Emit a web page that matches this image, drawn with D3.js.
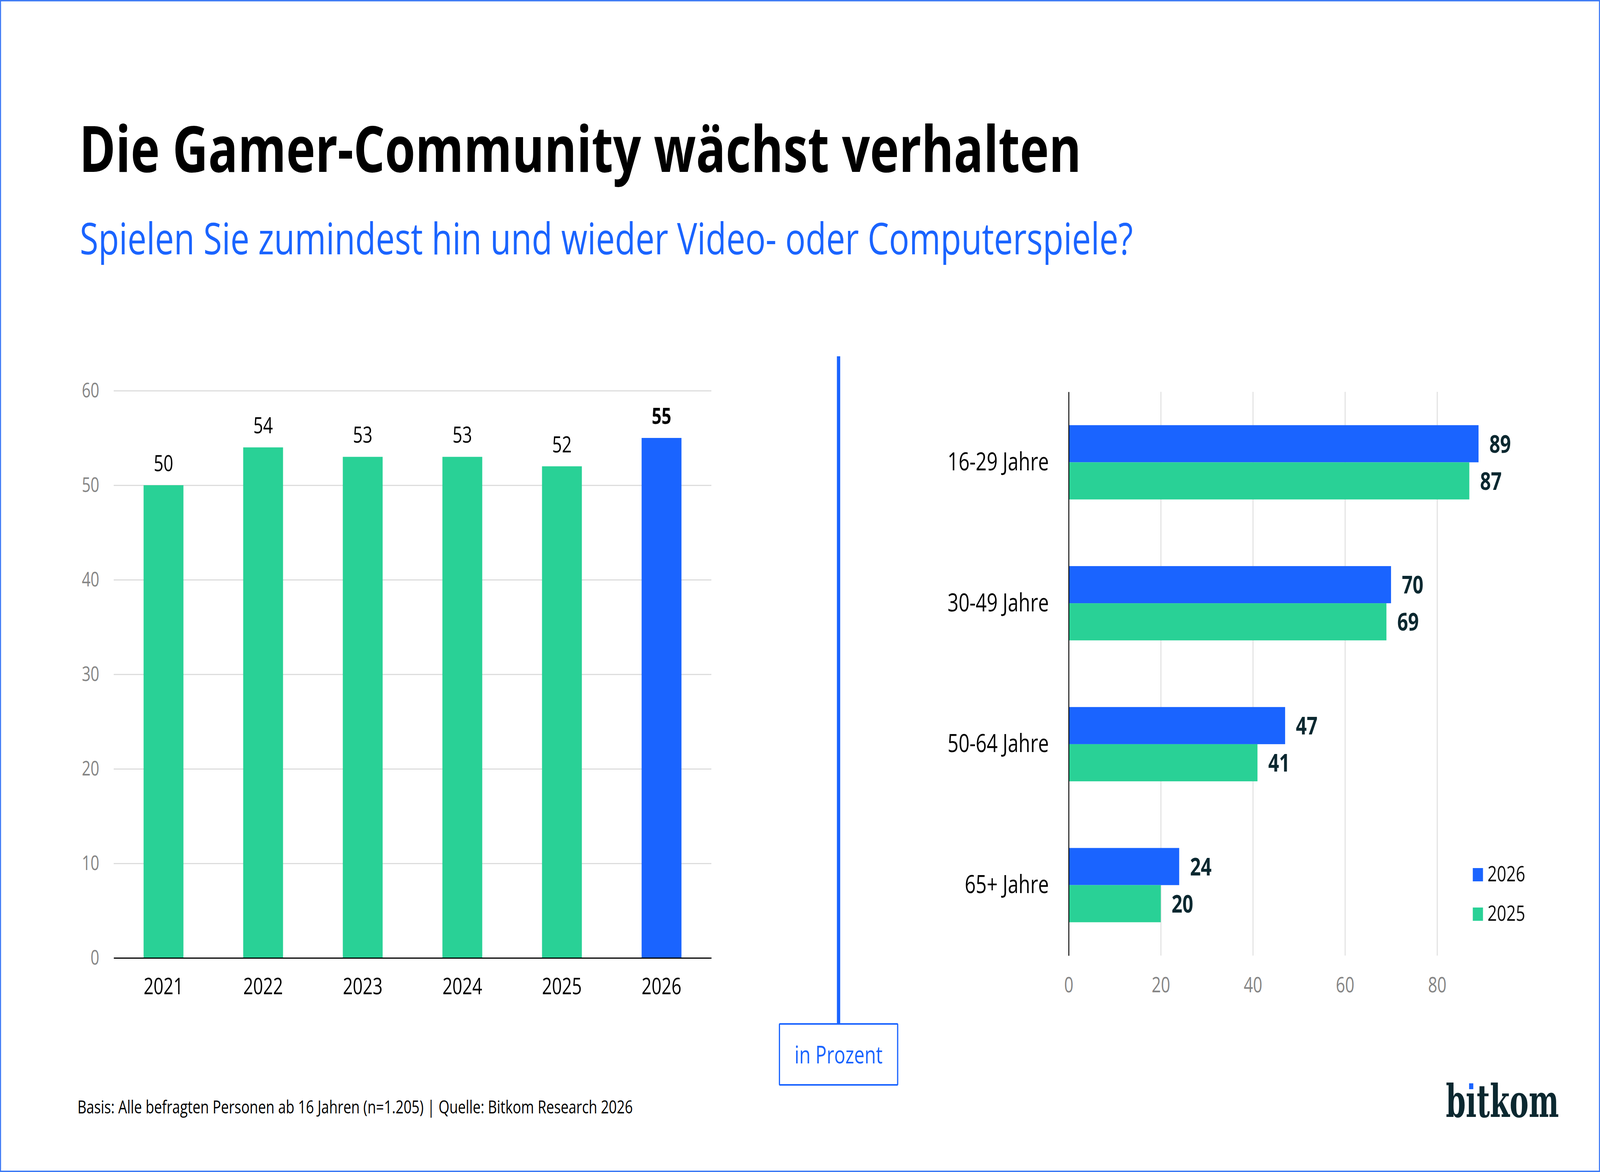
<!DOCTYPE html>
<html>
<head>
<meta charset="utf-8">
<script src="https://cdn.jsdelivr.net/npm/d3@7"></script>
<style>
  html, body { margin: 0; padding: 0; background: #fff; overflow: hidden; }
  svg { display: block; width: 100vw; height: 100vh; }
  text { font-family: "Open Sans", "Noto Sans", sans-serif; }
</style>
</head>
<body>
<svg id="chart" viewBox="0 0 5333 3000" preserveAspectRatio="none"></svg>
<script>
// --- data ---
const years = ['2021', '2022', '2023', '2024', '2025', '2026'];
const gamerShare = [50, 54, 53, 53, 52, 55];
const yTicks = [0, 10, 20, 30, 40, 50, 60];

const ageGroups = ['16-29 Jahre', '30-49 Jahre', '50-64 Jahre', '65+ Jahre'];
const series = ['2026', '2025'];
const share2026 = [89, 70, 47, 24];
const share2025 = [87, 69, 41, 20];
const xTicks = [0, 20, 40, 60, 80];

const BLUE = '#1a64ff';
const GREEN = '#29d196';
const DARK = '#0b2830';
const GRID = '#dddddd';
const TICK = '#858585';

const svg = d3.select('#chart');

// page frame
svg.append('rect')
  .attr('x', 0).attr('y', 0).attr('width', 5333).attr('height', 3000)
  .attr('fill', '#fff').attr('stroke', '#3d7af5').attr('stroke-width', 7);

// scale font-size so the text fills a given width
function fitWidth(sel, target) {
  const node = sel.node();
  const fs = parseFloat(sel.attr('font-size'));
  const w = node.getComputedTextLength();
  sel.attr('font-size', fs * target / w);
}

// titles
const title = svg.append('text')
  .attr('x', 264).attr('y', 440)
  .attr('font-size', 180).attr('font-weight', 700).attr('fill', '#000')
  .text('Die Gamer-Community wächst verhalten');
fitWidth(title, 3340);

const subtitle = svg.append('text')
  .attr('x', 266).attr('y', 651)
  .attr('font-size', 116).attr('fill', BLUE)
  .text('Spielen Sie zumindest hin und wieder Video- oder Computerspiele?');
fitWidth(subtitle, 3510);

// ---------- left: yearly column chart ----------
const x1 = d3.scaleBand().domain(years).range([379, 2371])
  .paddingInner(0.6).paddingOuter(0.3);
const y1 = d3.scaleLinear().domain([0, 60]).range([2452, 1000]);

const left = svg.append('g');

left.append('g')
  .attr('transform', 'translate(379,0)')
  .call(d3.axisLeft(y1).tickValues(yTicks).tickSize(-(2371 - 379)).tickPadding(48))
  .call(g => g.select('.domain').remove())
  .call(g => g.selectAll('.tick line').attr('stroke', GRID).attr('stroke-width', 3))
  .call(g => g.selectAll('.tick text')
    .attr('fill', TICK).attr('font-size', 51)
    .style('font-family', '"Open Sans", sans-serif'));

left.selectAll('.col')
  .data(years)
  .enter()
  .append('rect')
  .attr('class', 'col')
  .attr('x', d => x1(d))
  .attr('width', x1.bandwidth())
  .attr('y', (d, i) => y1(gamerShare[i]))
  .attr('height', (d, i) => y1(0) - y1(gamerShare[i]))
  .attr('fill', (d, i) => i === years.length - 1 ? BLUE : GREEN);

left.selectAll('.col-label')
  .data(years)
  .enter()
  .append('text')
  .attr('x', d => x1(d) + x1.bandwidth() / 2)
  .attr('y', (d, i) => y1(gamerShare[i]) - 36)
  .attr('text-anchor', 'middle')
  .attr('font-size', 57)
  .attr('font-weight', (d, i) => i === years.length - 1 ? 700 : 400)
  .attr('fill', '#000')
  .text((d, i) => gamerShare[i]);

left.append('g')
  .attr('transform', `translate(0,${y1(0)})`)
  .call(d3.axisBottom(x1).tickSize(0).tickPadding(52))
  .call(g => g.select('.domain').attr('stroke', '#000').attr('stroke-width', 3))
  .call(g => g.selectAll('.tick text')
    .attr('fill', '#000').attr('font-size', 58)
    .style('font-family', '"Open Sans", sans-serif'));

// ---------- divider and unit box ----------
svg.append('line')
  .attr('x1', 2795).attr('x2', 2795).attr('y1', 912).attr('y2', 2621)
  .attr('stroke', BLUE).attr('stroke-width', 11);

svg.append('rect')
  .attr('x', 2598).attr('y', 2621).attr('width', 394).attr('height', 156)
  .attr('fill', '#fff').attr('stroke', BLUE).attr('stroke-width', 4).attr('rx', 2);

svg.append('text')
  .attr('x', 2795).attr('y', 2722)
  .attr('text-anchor', 'middle').attr('font-size', 62).attr('fill', BLUE)
  .text('in Prozent');

// ---------- right: age group bar chart ----------
const values = { '2026': share2026, '2025': share2025 };
const colors = { '2026': BLUE, '2025': GREEN };

const x2 = d3.scaleLinear().domain([0, 100]).range([3562, 5097]);
const y2 = d3.scaleBand().domain(ageGroups).range([1003, 2446])
  .paddingInner(0.473).paddingOuter(0.2365);
const ySub = d3.scaleBand().domain(series).range([0, y2.bandwidth()]);

const right = svg.append('g');

right.append('g')
  .attr('transform', 'translate(0,2446)')
  .call(d3.axisBottom(x2).tickValues(xTicks).tickSize(-(2446 - 1003)).tickPadding(56))
  .call(g => g.select('.domain').remove())
  .call(g => g.selectAll('.tick line').attr('stroke', GRID).attr('stroke-width', 3))
  .call(g => g.selectAll('.tick text')
    .attr('fill', TICK).attr('font-size', 54)
    .style('font-family', '"Open Sans", sans-serif'));

const groups = right.selectAll('.grp')
  .data(ageGroups)
  .enter()
  .append('g')
  .attr('transform', d => `translate(0,${y2(d)})`);

series.forEach(s => {
  groups.append('rect')
    .attr('x', x2(0))
    .attr('y', ySub(s))
    .attr('width', (d, i) => x2(values[s][i]) - x2(0))
    .attr('height', ySub.bandwidth())
    .attr('fill', colors[s]);

  groups.append('text')
    .attr('x', (d, i) => x2(values[s][i]) + 36)
    .attr('y', ySub(s) + ySub.bandwidth() / 2)
    .attr('dy', '0.36em')
    .attr('font-size', 63).attr('font-weight', 700).attr('fill', DARK)
    .text((d, i) => values[s][i]);
});

// category labels and y axis line
right.append('g')
  .attr('transform', `translate(${x2(0)},0)`)
  .call(d3.axisLeft(y2).tickSize(0).tickPadding(66))
  .call(g => g.select('.domain').attr('stroke', '#000').attr('stroke-width', 3))
  .call(g => g.selectAll('.tick text')
    .attr('fill', '#000').attr('font-size', 64)
    .style('font-family', '"Open Sans", sans-serif'));

// legend
const legend = right.append('g').attr('transform', 'translate(4909,2222)');
series.forEach((s, i) => {
  const row = legend.append('g').attr('transform', `translate(0,${i * 101})`);
  row.append('rect').attr('width', 34).attr('height', 34).attr('fill', colors[s]);
  row.append('text').attr('x', 49).attr('y', 34)
    .attr('font-size', 55).attr('fill', '#111').text(s);
});

// ---------- footer ----------
const footer = svg.append('text')
  .attr('x', 258).attr('y', 2850)
  .attr('font-size', 45).attr('fill', '#000')
  .text('Basis: Alle befragten Personen ab 16 Jahren (n=1.205) | Quelle: Bitkom Research 2026');
fitWidth(footer, 1851);

// logo
const logo = svg.append('text')
  .attr('x', 4819).attr('y', 2859)
  .attr('font-size', 116).attr('font-weight', 700).attr('fill', DARK)
  .style('font-family', '"DejaVu Serif", serif')
  .attr('textLength', 377).attr('lengthAdjust', 'spacingAndGlyphs')
  .text('bitkom');
const iBox = logo.node().getExtentOfChar(1);
const dotX = iBox.x + iBox.width / 2;
svg.append('rect')
  .attr('x', dotX - 14).attr('y', 2758).attr('width', 28).attr('height', 36)
  .attr('fill', '#fff');
svg.append('rect')
  .attr('x', dotX - 7).attr('y', 2773).attr('width', 14).attr('height', 15)
  .attr('fill', BLUE);
</script>
</body>
</html>
